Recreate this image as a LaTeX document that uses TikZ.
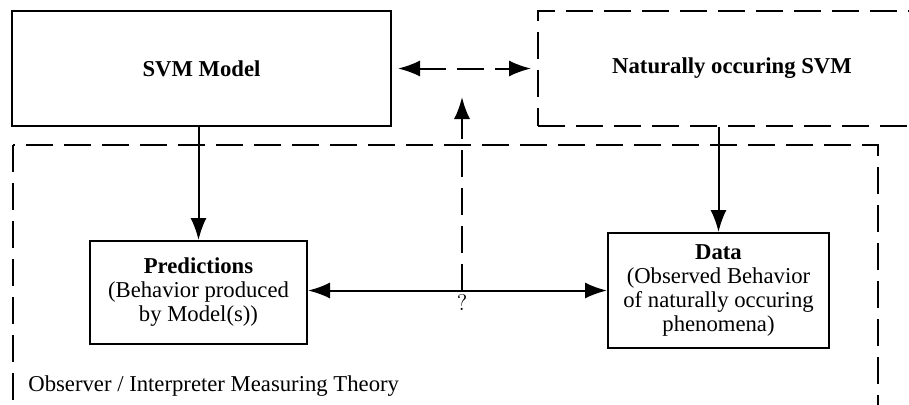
\documentclass[tikz,border=0pt]{standalone}
\usepackage{fontspec}
\setmainfont{Liberation Serif}
\usetikzlibrary{arrows.meta,calc}
\begin{document}
\begin{tikzpicture}[x=0.5pt,y=-0.5pt,
  every node/.style={font=\fontsize{11.35}{12}\selectfont},
  solidbox/.style={draw,line width=1pt,inner sep=0pt,align=center},
  dashbox/.style={draw,line width=1pt,dash pattern=on 13.5pt off 5.5pt,inner sep=0pt,align=center},
  arr/.style={line width=1pt,-{Latex[length=11pt,width=8pt]}},
  darr/.style={line width=1pt,{Latex[length=11pt,width=8pt]}-{Latex[length=11pt,width=8pt]}},
  dsh/.style={dash pattern=on 13.5pt off 5.5pt}
]
\useasboundingbox (0,0) rectangle (909,404);
% outer dashed theory box
\draw[line width=1pt,dsh] (13,145) rectangle (878,440);
\node[anchor=base west,inner sep=0pt] (obs) at (28,391) {Observer / Interpreter Measuring Theory};
% top boxes
\node[solidbox,minimum width=189.5pt,minimum height=57.5pt] (svm) at (201.5,68.5) {\textbf{SVM Model}};
\node[dashbox,minimum width=194pt,minimum height=57.5pt] (nat) at (732,68.5) {\textbf{Naturally occuring SVM}};
% lower boxes
\node[solidbox,minimum width=108.5pt,minimum height=51.5pt] (pred) at (198.5,292.5)
  {\textbf{Predictions}\\(Behavior produced\\by Model(s))\rule[-3pt]{0pt}{0pt}};
\node[solidbox,minimum width=110.5pt,minimum height=57.5pt] (data) at (718.5,290.5)
  {\textbf{Data}\\(Observed Behavior\\of naturally occuring\\phenomena)\rule[-2pt]{0pt}{0pt}};
% connectors
\draw[arr] (pred.north |- svm.south) -- (pred.north);
\draw[arr] (data.north |- nat.south) -- (data.north);
\draw[darr] (pred.east |- data.west) -- (data.west);
\draw[darr,dsh,shorten <=3pt,shorten >=3pt] (svm.east) -- (nat.west);
\coordinate (q) at (462,290.5);
\coordinate (qtop) at (462,97);
\draw[arr,dsh] (q) -- (qtop);
\node[anchor=north,inner sep=1pt,yshift=-1pt] (qm) at (q) {\usefont{TU}{lmr}{m}{n}\fontsize{11.35}{12}\selectfont ?};
\end{tikzpicture}
\end{document}
